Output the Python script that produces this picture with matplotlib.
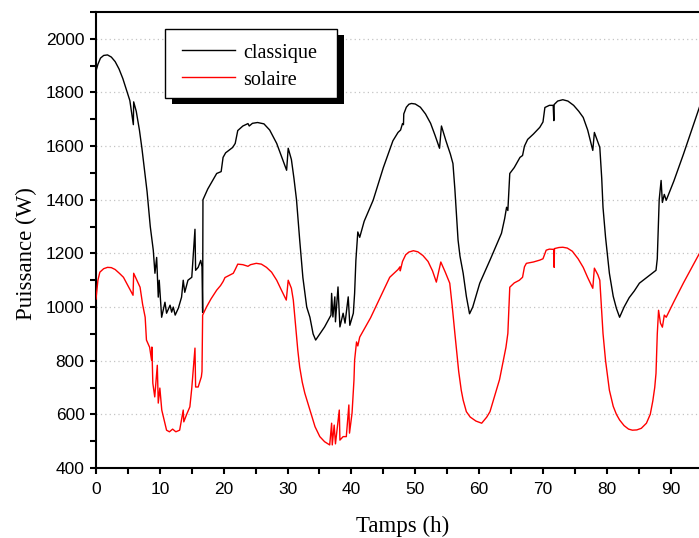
import matplotlib
matplotlib.use("Agg")
import matplotlib.pyplot as plt
from matplotlib.lines import Line2D
from matplotlib.patches import Rectangle
from matplotlib.ticker import MultipleLocator

# ---------------- data ----------------
t_classique = [0, 0.3, 0.7, 1.2, 1.8, 2.4, 3.0, 3.6, 4.2, 4.8, 5.3, 5.85, 5.9, 6.3, 6.8, 7.2,
               7.6, 8.0, 8.5, 8.97, 9.23, 9.5, 9.75, 9.9, 10.28, 10.8, 11.05, 11.6, 11.85,
               12.1, 12.4, 12.9, 13.4, 13.66, 13.9, 14.4, 15.0, 15.5, 15.6, 16.0, 16.4, 16.6,
               16.7, 16.75, 17.5, 18.9, 19.6, 19.9, 20.3, 21.4, 21.8, 22.2, 23.0, 23.8, 24.0,
               24.5, 25.3, 26.3, 27.2, 28.3, 29.0, 29.85, 30.1, 30.6, 31.0, 31.4, 31.9, 32.4,
               33.0, 33.5, 34.0, 34.4, 35.8, 36.8, 36.9, 37.1, 37.4, 37.5, 37.9, 38.2, 38.7,
               39.0, 39.5, 39.75, 40.3, 40.5, 40.7, 41.0, 41.3, 42.0, 43.4, 45.0, 46.5, 47.3,
               47.7, 48.0, 48.15, 48.2, 48.6, 49.0, 49.4, 50.0, 50.8, 51.6, 52.4, 53.1, 53.8,
               54.1, 54.8, 55.5, 55.9, 56.2, 56.7, 57.0, 57.5, 58.0, 58.5, 59.0, 60.1, 61.7,
               63.5, 64.0, 64.3, 64.5, 64.8, 65.5, 66.4, 66.8, 67.1, 67.6, 68.5, 69.5, 70.0,
               70.3, 71.0, 71.6, 71.7, 71.75, 72.3, 73.1, 73.9, 74.8, 75.6, 76.3, 77.0, 77.8,
               78.05, 78.6, 78.9, 79.2, 79.4, 79.8, 80.4, 81.0, 81.5, 82.0, 82.7, 83.5, 84.3,
               85.1, 86.5, 87.7, 87.9, 88.2, 88.5, 88.7, 89.0, 89.3, 90.5, 92.0, 94.5]
p_classique = [1880, 1905, 1928, 1938, 1940, 1932, 1915, 1888, 1852, 1808, 1770, 1680, 1765, 1730, 1660, 1590,
               1510, 1430, 1300, 1212, 1126, 1185, 1037, 1100, 962, 1018, 977, 1007, 981,
               1000, 970, 996, 1037, 1100, 1055, 1100, 1111, 1290, 1137, 1148, 1174, 1150,
               980, 1400, 1440, 1498, 1505, 1558, 1575, 1595, 1610, 1658, 1675, 1684, 1675,
               1685, 1688, 1683, 1660, 1610, 1565, 1510, 1592, 1550, 1480, 1400, 1250, 1110,
               1000, 962, 900, 877, 926, 970, 1051, 963, 1038, 945, 1075, 926, 977,
               940, 1038, 932, 977, 1051, 1174, 1280, 1260, 1320, 1398, 1520, 1620, 1651,
               1660, 1684, 1680, 1720, 1745, 1756, 1759, 1757, 1745, 1720, 1685, 1640, 1592,
               1675, 1620, 1570, 1535, 1440, 1250, 1190, 1126, 1040, 975, 1000, 1089, 1175,
               1275, 1330, 1372, 1360, 1498, 1520, 1558, 1565, 1600, 1625, 1645, 1670, 1690,
               1744, 1752, 1752, 1695, 1755, 1768, 1773, 1768, 1752, 1730, 1707, 1660, 1584,
               1651, 1615, 1595, 1480, 1372, 1260, 1126, 1040, 995, 962, 1000, 1035, 1060,
               1089, 1115, 1137, 1180, 1400, 1472, 1390, 1420, 1398, 1470, 1570, 1745]

t_solaire = [0, 0.3, 0.6, 1.2, 1.8, 2.4, 3.0, 3.7, 4.3, 5.0, 5.8, 5.9, 6.4, 6.9, 7.3, 7.7,
             7.9, 8.4, 8.7, 8.75, 8.9, 9.2, 9.6, 9.75, 10.0, 10.3, 10.8, 11.05, 11.5, 12.0,
             12.5, 13.1, 13.66, 13.75, 14.2, 14.7, 15.0, 15.5, 15.6, 16.0, 16.5, 16.6, 16.7,
             17.3, 18.0, 18.9, 19.5, 19.9, 20.2, 21.0, 21.5, 21.8, 22.2, 23.0, 23.8, 24.2,
             25.1, 25.9, 26.7, 27.5, 28.3, 29.0, 29.8, 30.1, 30.6, 30.9, 31.3, 31.6, 31.9,
             32.3, 32.7, 33.5, 34.3, 35.05, 35.8, 36.6, 36.9, 37.0, 37.3, 37.5, 38.1, 38.2,
             38.7, 39.2, 39.6, 39.7, 40.1, 40.4, 40.5, 40.8, 41.0, 41.3, 43.0, 46.0, 47.3,
             47.6, 47.65, 48.0, 48.5, 49.0, 49.7, 50.4, 51.2, 52.0, 52.7, 53.3, 54.0, 54.7,
             55.4, 55.8, 56.2, 56.8, 57.2, 57.5, 58.0, 58.6, 59.5, 60.4, 61.2, 61.7, 62.2,
             62.7, 63.2, 63.7, 64.2, 64.5, 64.8, 65.5, 66.3, 66.8, 67.1, 67.4, 68.5, 69.5,
             70.0, 70.5, 71.0, 71.7, 71.75, 71.8, 72.5, 73.1, 73.8, 74.6, 75.5, 76.3, 77.0,
             77.8, 78.05, 78.6, 78.9, 79.2, 79.4, 79.8, 80.4, 81.0, 81.5, 82.0, 82.7, 83.4,
             84.0, 84.7, 85.4, 86.2, 86.8, 87.2, 87.5, 87.7, 87.9, 88.1, 88.4, 88.7, 89.0,
             89.3, 90.5, 92.0, 94.5]
p_solaire = [1030, 1100, 1130, 1143, 1148, 1147, 1140, 1125, 1111, 1080, 1044, 1126, 1100, 1074, 1010, 962,
             877, 850, 802, 851, 716, 665, 783, 642, 698, 616, 567, 541, 535, 545,
             535, 541, 616, 572, 600, 628, 698, 847, 702, 702, 740, 760, 970,
             1000, 1030, 1063, 1080, 1095, 1110, 1120, 1126, 1140, 1160, 1158, 1152, 1158,
             1163, 1160, 1148, 1130, 1100, 1065, 1026, 1100, 1070, 1026, 920, 840, 776,
             720, 679, 616, 554, 517, 498, 486, 567, 486, 560, 490, 616, 504,
             517, 517, 635, 530, 605, 728, 802, 870, 855, 888, 960, 1111, 1140,
             1150, 1135, 1170, 1195, 1205, 1210, 1206, 1192, 1170, 1135, 1093, 1168, 1130,
             1089, 1000, 902, 760, 690, 653, 610, 590, 575, 567, 590, 610, 650,
             690, 730, 790, 850, 902, 1074, 1090, 1100, 1111, 1150, 1163, 1168, 1175,
             1180, 1212, 1216, 1215, 1148, 1218, 1222, 1223, 1220, 1208, 1180, 1148, 1110,
             1070, 1145, 1120, 1100, 980, 902, 800, 690, 630, 600, 579, 558, 545,
             541, 542, 548, 567, 600, 650, 700, 753, 900, 988, 940, 925, 970,
             962, 1020, 1090, 1200]

series_labels = ["classique", "solaire"]
series_colors = ["black", "#ff0000"]
x_label = "Tamps (h)"
y_label = "Puissance (W)"
x_ticks = [0, 10, 20, 30, 40, 50, 60, 70, 80, 90]
y_ticks = [400, 600, 800, 1000, 1200, 1400, 1600, 1800, 2000]

# ---------------- figure ----------------
W, H = 699, 538
fig = plt.figure(figsize=(W / 100, H / 100), dpi=100)
fig.patch.set_facecolor("white")

def fx(x):
    return x / W

def fy(y):
    return 1 - y / H

ax = fig.add_axes([fx(96), fy(468), 613 / W, 456 / H])
ax.set_xlim(0, 96)
ax.set_ylim(400, 2100)

ax.plot(t_classique, p_classique, color=series_colors[0], lw=1.0, zorder=3)
ax.plot(t_solaire, p_solaire, color=series_colors[1], lw=1.0, zorder=3)

ax.set_xticks(x_ticks)
ax.set_yticks(y_ticks)
ax.xaxis.set_minor_locator(MultipleLocator(5))
ax.yaxis.set_minor_locator(MultipleLocator(100))

for s in ["top", "left", "bottom"]:
    ax.spines[s].set_linewidth(1.5)
ax.spines["right"].set_visible(False)

ax.tick_params(which="both", direction="out", width=1.5, top=False, right=False)
ax.tick_params(which="major", length=4.2)
ax.tick_params(which="minor", length=4.0)
ax.tick_params(axis="x", which="major", pad=6)
ax.tick_params(axis="y", which="major", pad=4)
for lab in ax.get_xticklabels() + ax.get_yticklabels():
    lab.set_fontfamily("Liberation Sans")
    lab.set_fontsize(12.5)

ax.yaxis.grid(True, which="major", linestyle=(0, (1, 2.5)), color="#c4c4c4", lw=0.9)
ax.set_axisbelow(True)

serif = "Liberation Serif"
ax.set_xlabel(x_label, fontsize=16.5, family=serif, va="center")
ax.xaxis.set_label_coords(0.5, -(526 - 468) / 456)
ax.set_ylabel(y_label, fontsize=16.5, family=serif, va="center", ha="center")
ax.yaxis.set_label_coords(-(96 - 26) / 613, (468 - 254) / 456)

# ---------------- legend box with solid shadow ----------------
bx0, by0, bx1, by1 = 165, 29, 337, 98
shadow = Rectangle((fx(bx0 + 7), fy(by1 + 6)), (bx1 - bx0) / W, (by1 - by0) / H,
                   transform=fig.transFigure, facecolor="black", edgecolor="black",
                   lw=0, zorder=10)
box = Rectangle((fx(bx0), fy(by1)), (bx1 - bx0) / W, (by1 - by0) / H,
                transform=fig.transFigure, facecolor="white", edgecolor="black",
                lw=1.0, zorder=11)
fig.add_artist(shadow)
fig.add_artist(box)
for lbl, col, ly, base in zip(series_labels, series_colors, [50, 77.5], [58, 85]):
    fig.add_artist(Line2D([fx(182), fx(235)], [fy(ly), fy(ly)], color=col, lw=1.0,
                          transform=fig.transFigure, zorder=12))
    fig.text(fx(243), fy(base), lbl, fontsize=14.5, family=serif, ha="left",
             va="baseline", zorder=12)

fig.savefig("out.png", dpi=100)
